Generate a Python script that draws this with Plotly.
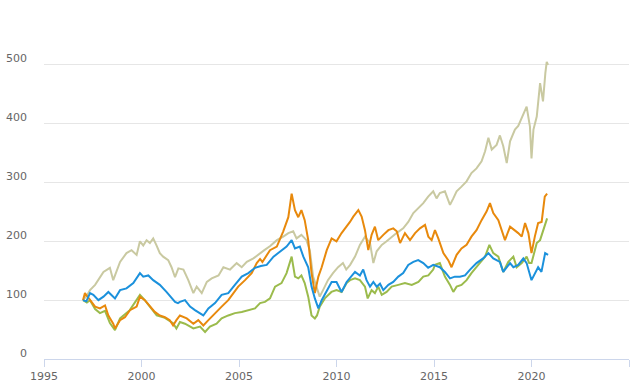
import plotly.graph_objects as go

# ---- data ----
khaki_years = [1997.0, 1997.2, 1997.36, 1997.62, 1998.05, 1998.38, 1998.55, 1998.9, 1999.23, 1999.49,
               1999.75, 1999.92, 2000.09, 2000.26, 2000.43, 2000.6, 2000.77, 2000.94, 2001.11, 2001.37,
               2001.54, 2001.72, 2001.89, 2002.15, 2002.4, 2002.66, 2002.83, 2003.09, 2003.35, 2003.6,
               2003.95, 2004.2, 2004.54, 2004.88, 2005.14, 2005.4, 2005.74, 2006.08, 2006.3, 2006.6,
               2006.94, 2007.27, 2007.53, 2007.78, 2007.95, 2008.2, 2008.46, 2008.63, 2008.8, 2008.97,
               2009.14, 2009.31, 2009.56, 2009.82, 2010.08, 2010.33, 2010.5, 2010.7, 2010.95, 2011.2,
               2011.46, 2011.72, 2011.89, 2012.06, 2012.32, 2012.57, 2012.83, 2013.08, 2013.42, 2013.68,
               2013.94, 2014.19, 2014.45, 2014.7, 2014.96, 2015.13, 2015.3, 2015.56, 2015.82, 2015.99,
               2016.16, 2016.41, 2016.67, 2016.92, 2017.18, 2017.44, 2017.62, 2017.79, 2017.96, 2018.21,
               2018.38, 2018.55, 2018.73, 2018.9, 2019.15, 2019.32, 2019.58, 2019.75, 2019.92, 2020.0,
               2020.1, 2020.27, 2020.44, 2020.59, 2020.71, 2020.78, 2020.85]
khaki_values = [100, 108, 117, 126, 148, 155, 134, 165, 180, 185,
                177, 200, 193, 202, 197, 205, 193, 180, 174, 168,
                156, 139, 154, 152, 134, 112, 123, 112, 131, 137,
                142, 156, 152, 163, 156, 165, 171, 180, 185, 192,
                202, 208, 214, 217, 205, 211, 202, 185, 140, 123,
                106, 117, 134, 146, 156, 163, 152, 160, 174, 194,
                208, 197, 163, 183, 194, 200, 208, 214, 222, 233,
                248, 256, 265, 276, 285, 273, 282, 285, 262, 273,
                285, 293, 302, 316, 324, 336, 353, 376, 356, 364,
                380, 362, 333, 370, 390, 396, 415, 429, 395, 341,
                390, 412, 469, 438, 486, 505, 500]

blue_years = [1997.0, 1997.17, 1997.36, 1997.53, 1997.79, 1998.05, 1998.3, 1998.64, 1998.9, 1999.23,
              1999.58, 1999.92, 2000.09, 2000.35, 2000.6, 2000.94, 2001.28, 2001.62, 2001.72, 2001.87,
              2001.97, 2002.23, 2002.49, 2002.74, 2002.91, 2003.17, 2003.43, 2003.77, 2004.11, 2004.45,
              2004.79, 2005.14, 2005.48, 2005.82, 2006.12, 2006.42, 2006.77, 2007.11, 2007.44, 2007.7,
              2007.87, 2008.12, 2008.3, 2008.55, 2008.72, 2008.89, 2009.07, 2009.24, 2009.5, 2009.75,
              2010.0, 2010.26, 2010.52, 2010.69, 2010.95, 2011.2, 2011.37, 2011.54, 2011.72, 2011.89,
              2012.06, 2012.23, 2012.4, 2012.66, 2012.91, 2013.17, 2013.42, 2013.68, 2013.94, 2014.19,
              2014.45, 2014.7, 2014.96, 2015.3, 2015.56, 2015.82, 2016.07, 2016.33, 2016.59, 2016.85,
              2017.18, 2017.52, 2017.79, 2018.04, 2018.38, 2018.55, 2018.72, 2018.9, 2019.07, 2019.32,
              2019.58, 2019.75, 2020.0, 2020.17, 2020.34, 2020.51, 2020.7, 2020.85]
blue_values = [100, 98, 112, 109, 100, 106, 114, 103, 117, 120,
               129, 146, 140, 142, 134, 126, 114, 100, 97, 95,
               97, 100, 89, 83, 80, 74, 86, 95, 109, 112,
               126, 140, 146, 155, 158, 160, 174, 183, 191, 202,
               188, 191, 174, 156, 123, 103, 86, 100, 117, 131,
               131, 114, 131, 137, 148, 142, 152, 134, 123, 131,
               123, 128, 117, 126, 131, 140, 146, 160, 165, 168,
               163, 155, 160, 156, 148, 137, 140, 140, 142, 152,
               163, 171, 180, 171, 165, 148, 156, 163, 156, 160,
               171, 163, 134, 146, 156, 148, 180, 177]

orange_years = [1997.0, 1997.1, 1997.25, 1997.36, 1997.62, 1997.87, 1998.13, 1998.3, 1998.55, 1998.64,
                1998.9, 1999.15, 1999.41, 1999.75, 1999.92, 2000.17, 2000.43, 2000.68, 2000.94, 2001.2,
                2001.45, 2001.62, 2001.79, 2001.97, 2002.32, 2002.66, 2002.91, 2003.17, 2003.43, 2003.77,
                2004.11, 2004.45, 2004.7, 2004.96, 2005.31, 2005.65, 2005.91, 2006.08, 2006.2, 2006.33,
                2006.59, 2006.94, 2007.27, 2007.53, 2007.7, 2007.87, 2008.04, 2008.2, 2008.37, 2008.55,
                2008.72, 2008.89, 2009.07, 2009.24, 2009.5, 2009.75, 2010.0, 2010.26, 2010.52, 2010.69,
                2010.86, 2011.12, 2011.29, 2011.46, 2011.63, 2011.8, 2011.97, 2012.14, 2012.4, 2012.66,
                2012.91, 2013.09, 2013.26, 2013.51, 2013.77, 2014.03, 2014.28, 2014.54, 2014.71, 2014.88,
                2015.05, 2015.22, 2015.48, 2015.73, 2015.9, 2016.16, 2016.41, 2016.67, 2016.92, 2017.18,
                2017.44, 2017.7, 2017.87, 2018.04, 2018.3, 2018.47, 2018.64, 2018.9, 2019.15, 2019.32,
                2019.5, 2019.67, 2019.84, 2020.0, 2020.17, 2020.34, 2020.52, 2020.68, 2020.8]
orange_values = [100, 112, 105, 100, 89, 86, 91, 74, 60, 52,
                 66, 71, 83, 89, 106, 100, 89, 80, 74, 71,
                 66, 57, 66, 74, 69, 60, 66, 57, 66, 78,
                 89, 100, 112, 123, 134, 146, 163, 170, 165, 172,
                 185, 191, 217, 241, 281, 253, 241, 253, 236, 202,
                 146, 112, 140, 156, 185, 205, 200, 214, 225, 233,
                 242, 253, 242, 219, 185, 211, 225, 202, 211, 219,
                 222, 217, 197, 214, 202, 214, 222, 228, 208, 202,
                 219, 205, 180, 168, 156, 177, 188, 194, 208, 219,
                 236, 251, 265, 248, 236, 219, 202, 225, 219, 214,
                 208, 231, 214, 180, 208, 231, 233, 276, 281]

green_years = [1997.0, 1997.2, 1997.36, 1997.62, 1997.87, 1998.13, 1998.38, 1998.64, 1998.9, 1999.4,
               1999.92, 2000.17, 2000.78, 2001.2, 2001.62, 2001.79, 2001.97, 2002.23, 2002.66, 2003.0,
               2003.26, 2003.51, 2003.85, 2004.11, 2004.45, 2004.79, 2005.14, 2005.48, 2005.82, 2006.08,
               2006.33, 2006.59, 2006.85, 2007.18, 2007.44, 2007.7, 2007.87, 2008.04, 2008.2, 2008.37,
               2008.55, 2008.72, 2008.89, 2009.0, 2009.14, 2009.4, 2009.74, 2010.0, 2010.26, 2010.52,
               2010.69, 2010.95, 2011.2, 2011.46, 2011.6, 2011.8, 2011.97, 2012.14, 2012.32, 2012.57,
               2012.83, 2013.17, 2013.51, 2013.86, 2014.2, 2014.45, 2014.71, 2014.96, 2015.05, 2015.3,
               2015.56, 2015.82, 2015.99, 2016.16, 2016.41, 2016.67, 2016.92, 2017.27, 2017.62, 2017.84,
               2018.04, 2018.3, 2018.55, 2018.81, 2019.07, 2019.24, 2019.5, 2019.75, 2019.88, 2020.0,
               2020.08, 2020.27, 2020.44, 2020.61, 2020.8]
green_values = [100, 96, 100, 85, 78, 82, 61, 49, 69, 83,
                109, 100, 74, 70, 61, 52, 63, 60, 52, 55,
                46, 55, 60, 69, 74, 78, 80, 83, 86, 95,
                97, 103, 123, 129, 146, 174, 140, 137, 142, 129,
                106, 74, 69, 74, 89, 103, 114, 117, 114, 129,
                134, 137, 134, 123, 103, 117, 112, 123, 109, 114,
                123, 126, 129, 126, 131, 140, 142, 152, 160, 163,
                140, 126, 114, 123, 126, 134, 146, 160, 174, 194,
                180, 174, 148, 165, 174, 156, 163, 174, 163, 163,
                174, 197, 202, 219, 239]

x_ticks = [1995, 2000, 2005, 2010, 2015, 2020, 2025]
y_grid = [100, 200, 300, 400, 500, 600]
y_labels = [0, 100, 200, 300, 400, 500]

series = [
    ("khaki", khaki_years, khaki_values, "#c9c9a1"),
    ("green", green_years, green_values, "#9bbb4c"),
    ("orange", orange_years, orange_values, "#e8890c"),
    ("blue", blue_years, blue_values, "#1b91dc"),
]

fig = go.Figure()
for name, xs, ys, col in series:
    fig.add_trace(go.Scatter(x=xs, y=ys, mode="lines", name=name,
                             line=dict(color=col, width=2), hoverinfo="skip"))

font_family = "DejaVu Sans"
fig.update_layout(
    width=640, height=391,
    margin=dict(l=44, r=11, t=6, b=32),
    paper_bgcolor="white", plot_bgcolor="white",
    showlegend=False,
    font=dict(family=font_family, size=11, color="#666666"),
)
fig.update_xaxes(
    range=[1995, 2025], tickvals=x_ticks, ticktext=[str(v) for v in x_ticks],
    showgrid=False, zeroline=False,
    showline=True, linecolor="#ccd6eb", linewidth=1,
    ticks="outside", ticklen=7, tickcolor="#ccd6eb", tickwidth=1,
    tickfont=dict(family=font_family, size=11, color="#666666"),
)
fig.update_yaxes(
    range=[0, 600], tickvals=y_grid, showticklabels=False,
    showgrid=True, gridcolor="#e6e6e6", gridwidth=1,
    zeroline=False, showline=False,
)
for v in y_labels:
    fig.add_annotation(x=0, xref="paper", y=v, yref="y", text=str(v),
                       showarrow=False, xanchor="right", yanchor="middle",
                       xshift=-15, yshift=6,
                       font=dict(family=font_family, size=11, color="#666666"))

fig.write_html("out.html",
               config={"displayModeBar": False},
               post_script="document.body.style.margin='0';document.body.style.overflow='hidden';")
